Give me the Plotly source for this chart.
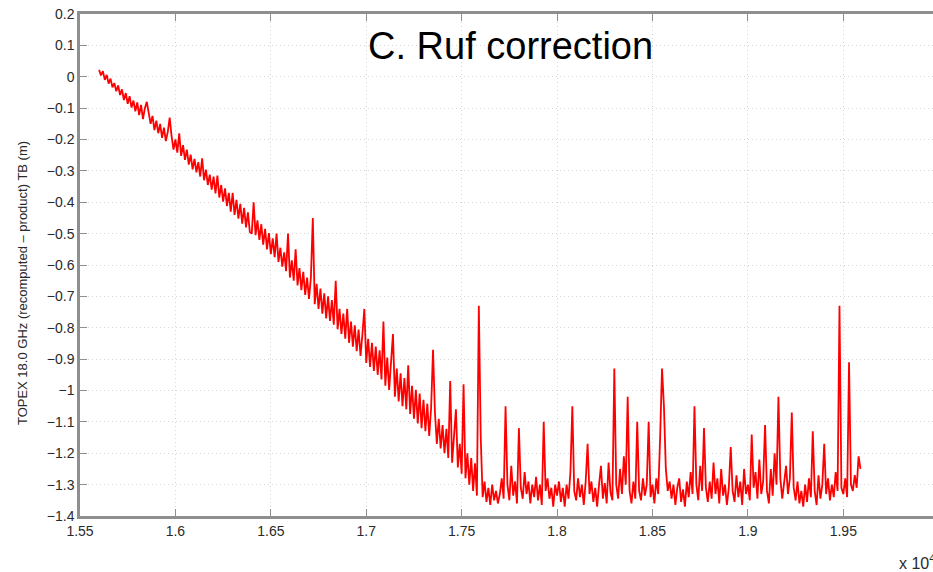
import plotly.graph_objects as go

# Sampling grid of the record (x in units of 10^4)
X_START = 1.560
X_STEP = 0.001

# TB difference (m), 10 samples per 0.01 of x
tb_diff = [
    0.022, 0.004, 0.018, -0.010, 0.006, -0.022, -0.006, -0.034, -0.020, -0.046,
    -0.028, -0.058, -0.040, -0.074, -0.052, -0.086, -0.062, -0.098, -0.076, -0.110,
    -0.082, -0.122, -0.090, -0.135, -0.100, -0.080, -0.115, -0.150, -0.125, -0.170,
    -0.140, -0.180, -0.150, -0.195, -0.162, -0.205, -0.176, -0.130, -0.190, -0.232,
    -0.200, -0.242, -0.180, -0.252, -0.218, -0.265, -0.232, -0.280, -0.248, -0.295,
    -0.262, -0.305, -0.272, -0.318, -0.260, -0.330, -0.296, -0.345, -0.312, -0.360,
    -0.318, -0.372, -0.315, -0.385, -0.345, -0.398, -0.356, -0.412, -0.370, -0.430,
    -0.370, -0.440, -0.392, -0.452, -0.405, -0.468, -0.418, -0.480, -0.432, -0.495,
    -0.500, -0.400, -0.505, -0.458, -0.520, -0.470, -0.535, -0.485, -0.550, -0.498,
    -0.565, -0.515, -0.575, -0.500, -0.590, -0.545, -0.605, -0.560, -0.620, -0.500,
    -0.640, -0.585, -0.650, -0.550, -0.665, -0.610, -0.680, -0.622, -0.695, -0.640,
    -0.708, -0.640, -0.450, -0.725, -0.660, -0.740, -0.675, -0.755, -0.690, -0.770,
    -0.700, -0.778, -0.712, -0.790, -0.650, -0.805, -0.740, -0.820, -0.755, -0.835,
    -0.740, -0.848, -0.780, -0.860, -0.792, -0.875, -0.806, -0.890, -0.820, -0.740,
    -0.912, -0.835, -0.925, -0.848, -0.938, -0.860, -0.950, -0.872, -0.965, -0.780,
    -0.985, -0.895, -0.998, -0.908, -0.820, -1.020, -0.930, -1.035, -0.945, -1.050,
    -0.960, -1.060, -0.920, -1.075, -0.985, -1.090, -0.998, -1.105, -1.010, -1.120,
    -1.030, -1.130, -1.042, -1.145, -1.055, -0.870, -1.070, -1.170, -1.090, -1.185,
    -1.110, -1.200, -1.122, -1.215, -0.970, -1.230, -1.150, -1.060, -1.245, -1.170,
    -1.265, -0.980, -1.280, -1.200, -1.300, -1.215, -1.320, -1.232, -1.335, -0.730,
    -1.150, -1.340, -1.290, -1.355, -1.310, -1.365, -1.300, -1.350, -1.320, -1.360,
    -1.330, -1.280, -1.345, -1.050, -1.300, -1.350, -1.240, -1.335, -1.290, -1.360,
    -1.120, -1.310, -1.345, -1.260, -1.330, -1.290, -1.360, -1.300, -1.340, -1.275,
    -1.350, -1.300, -1.365, -1.100, -1.320, -1.280, -1.345, -1.310, -1.370, -1.300,
    -1.335, -1.290, -1.355, -1.310, -1.370, -1.300, -1.345, -1.260, -1.050, -1.320,
    -1.350, -1.280, -1.340, -1.300, -1.365, -1.290, -1.170, -1.330, -1.290, -1.355,
    -1.310, -1.370, -1.300, -1.240, -1.345, -1.295, -1.360, -1.230, -1.325, -1.350,
    -0.930, -1.300, -1.345, -1.250, -1.330, -1.210, -1.300, -1.020, -1.320, -1.360,
    -1.290, -1.345, -1.100, -1.320, -1.350, -1.280, -1.335, -1.300, -1.100, -1.340,
    -1.300, -1.360, -1.280, -1.330, -1.150, -0.930, -1.050, -1.250, -1.320, -1.290,
    -1.345, -1.300, -1.365, -1.310, -1.280, -1.355, -1.315, -1.370, -1.290, -1.340,
    -1.260, -1.330, -1.050, -1.300, -1.350, -1.240, -1.320, -1.120, -1.310, -1.355,
    -1.290, -1.345, -1.230, -1.330, -1.280, -1.360, -1.250, -1.335, -1.300, -1.365,
    -1.310, -1.180, -1.320, -1.355, -1.270, -1.340, -1.290, -1.365, -1.250, -1.330,
    -1.300, -1.350, -1.140, -1.310, -1.260, -1.345, -1.220, -1.330, -1.290, -1.110,
    -1.320, -1.360, -1.250, -1.335, -1.200, -1.300, -1.020, -1.280, -1.345, -1.300,
    -1.240, -1.330, -1.280, -1.070, -1.310, -1.350, -1.290, -1.360, -1.320, -1.370,
    -1.300, -1.355, -1.280, -1.340, -1.130, -1.320, -1.365, -1.270, -1.345, -1.300,
    -1.170, -1.330, -1.280, -1.350, -1.300, -1.340, -1.260, -1.320, -0.730, -1.310,
    -1.330, -1.280, -1.340, -0.910, -1.300, -1.320, -1.270, -1.310, -1.210, -1.250,
]

x_tick_vals = [1.55, 1.60, 1.65, 1.70, 1.75, 1.80, 1.85, 1.90, 1.95]
x_tick_text = ["1.55", "1.6", "1.65", "1.7", "1.75", "1.8", "1.85", "1.9", "1.95"]
y_tick_vals = [0.2, 0.1, 0.0, -0.1, -0.2, -0.3, -0.4, -0.5, -0.6, -0.7,
               -0.8, -0.9, -1.0, -1.1, -1.2, -1.3, -1.4]
y_tick_text = ["0.2", "0.1", "0", "\u22120.1", "\u22120.2", "\u22120.3", "\u22120.4",
               "\u22120.5", "\u22120.6", "\u22120.7", "\u22120.8", "\u22120.9", "\u22121",
               "\u22121.1", "\u22121.2", "\u22121.3", "\u22121.4"]

title_text = "C. Ruf correction"
y_title = "TOPEX 18.0 GHz (recomputed \u2013 product) TB (m)"
x_exp = "x 10<sup>4</sup>"

FONT = "Liberation Sans, Arial, sans-serif"
AXIS_COL = "#8f8f8f"
GRID_COL = "#d6d6d6"

fig = go.Figure()
fig.add_trace(go.Scatter(
    x0=X_START, dx=X_STEP, y=tb_diff, mode="lines",
    line=dict(color="#ff0000", width=1.8), showlegend=False, hoverinfo="skip",
))

fig.update_layout(
    width=933, height=572,
    margin=dict(l=80, r=0, t=14, b=56),
    paper_bgcolor="white", plot_bgcolor="white",
    showlegend=False,
    font=dict(family=FONT, size=14, color="#2a2a2a"),
    xaxis=dict(
        range=[1.55, 1.997], tickmode="array", tickvals=x_tick_vals, ticktext=x_tick_text,
        ticks="inside", ticklen=7, tickwidth=1, tickcolor=AXIS_COL,
        showline=True, linecolor=AXIS_COL, linewidth=2.5, mirror="ticks",
        showgrid=True, gridcolor=GRID_COL, griddash="1px,3px", gridwidth=1,
        zeroline=False, tickfont=dict(size=14, color="#2a2a2a"),
    ),
    yaxis=dict(
        range=[-1.4, 0.2], tickmode="array", tickvals=y_tick_vals, ticktext=y_tick_text,
        ticks="inside", ticklen=7, tickwidth=1, tickcolor=AXIS_COL,
        showline=True, linecolor=AXIS_COL, linewidth=2.5, mirror=False,
        showgrid=True, gridcolor=GRID_COL, griddash="1px,3px", gridwidth=1,
        zeroline=False, tickfont=dict(size=14, color="#2a2a2a"),
    ),
    yaxis2=dict(
        range=[-1.4, 0.2], overlaying="y", side="right", tickmode="array",
        tickvals=y_tick_vals, ticks="inside", ticklen=7, tickwidth=1, tickcolor=AXIS_COL,
        showticklabels=False, showline=False, showgrid=False, zeroline=False,
    ),
    annotations=[
        dict(text=title_text, xref="paper", yref="paper", x=0.505, y=0.936,
             xanchor="center", yanchor="middle", showarrow=False,
             font=dict(family=FONT, size=38, color="black")),
        dict(text=y_title, xref="paper", yref="paper", x=-0.068, y=0.464,
             xanchor="center", yanchor="middle", textangle=-90, showarrow=False,
             font=dict(family=FONT, size=13, color="#2a2a2a")),
        dict(text=x_exp, xref="paper", yref="paper", x=0.958, y=-0.092,
             xanchor="left", yanchor="middle", showarrow=False,
             font=dict(family=FONT, size=16, color="#2a2a2a")),
    ],
)

fig.write_html("out.html")
